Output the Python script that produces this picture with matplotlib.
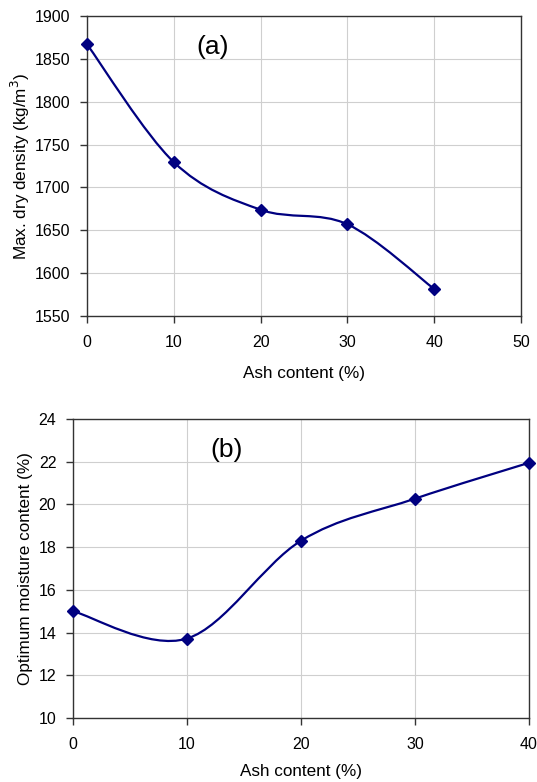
import matplotlib
matplotlib.use("Agg")
import matplotlib.pyplot as plt
from matplotlib.path import Path
from matplotlib.patches import PathPatch
import numpy as np

plt.rcParams['font.family'] = ['Liberation Sans', 'DejaVu Sans']

ash = [0, 10, 20, 30, 40]
dry_density = [1867, 1729.5, 1674, 1657, 1581.5]
moisture = [15.0, 13.72, 18.3, 20.27, 21.95]

NAVY = '#000080'


def smooth_path(xs, ys):
    """Excel-style smoothed line: cubic Bezier through points (Catmull-Rom)."""
    p = np.column_stack([xs, ys]).astype(float)
    n = len(p)
    verts = [p[0]]
    codes = [Path.MOVETO]
    for i in range(n - 1):
        p0 = p[i - 1] if i > 0 else p[i]
        p1 = p[i]
        p2 = p[i + 1]
        p3 = p[i + 2] if i + 2 < n else p[i + 1]
        c1 = p1 + (p2 - p0) / 6.0
        c2 = p2 - (p3 - p1) / 6.0
        verts += [c1, c2, p2]
        codes += [Path.CURVE4] * 3
    return Path(verts, codes)


W, H = 537, 782
fig = plt.figure(figsize=(W / 100, H / 100), dpi=100)

# top axes (a)
ax1 = fig.add_axes([87 / W, 1 - 316 / H, (521 - 87) / W, (316 - 16) / H])
# bottom axes (b)
ax2 = fig.add_axes([73 / W, 1 - 718 / H, (529 - 73) / W, (718 - 419) / H])

for ax, ys, xlim, ylim, yticks, xticks, ylabel, ylp, xlp in [
    (ax1, dry_density, (0, 50), (1550, 1900), np.arange(1550, 1901, 50), np.arange(0, 51, 10),
     'Max. dry density (kg/m$^3$)', 2, 11),
    (ax2, moisture, (0, 40), (10, 24), np.arange(10, 25, 2), np.arange(0, 41, 10),
     'Optimum moisture content (%)', 4, 8),
]:
    patch = PathPatch(smooth_path(ash, ys), facecolor='none', edgecolor=NAVY, lw=1.6,
                      transform=ax.transData, zorder=3, clip_on=False)
    ax.add_patch(patch)
    ax.plot(ash, ys, linestyle='none', marker='D', markersize=6.5, color=NAVY, zorder=4,
            clip_on=False)
    ax.set_xlim(*xlim)
    ax.set_ylim(*ylim)
    ax.set_xticks(xticks)
    ax.set_yticks(yticks)
    ax.grid(True, color='#cfcfcf', lw=0.8)
    ax.set_axisbelow(True)
    for s in ax.spines.values():
        s.set_color('#333333')
        s.set_linewidth(1.0)
    ax.tick_params(axis='x', direction='out', length=5, width=1, color='#333333',
                   labelsize=11.5, pad=9)
    ax.tick_params(axis='y', direction='out', length=5, width=1, color='#333333',
                   labelsize=11.5, pad=7)
    ax.set_xlabel('Ash content (%)', fontsize=12.3, labelpad=xlp)
    ax.set_ylabel(ylabel, fontsize=12.3, labelpad=ylp)

ax1.text(14.5, 1864, '(a)', fontsize=19, ha='center', va='center')
ax2.text(13.5, 22.56, '(b)', fontsize=19, ha='center', va='center')

fig.savefig('out.png', dpi=100)
